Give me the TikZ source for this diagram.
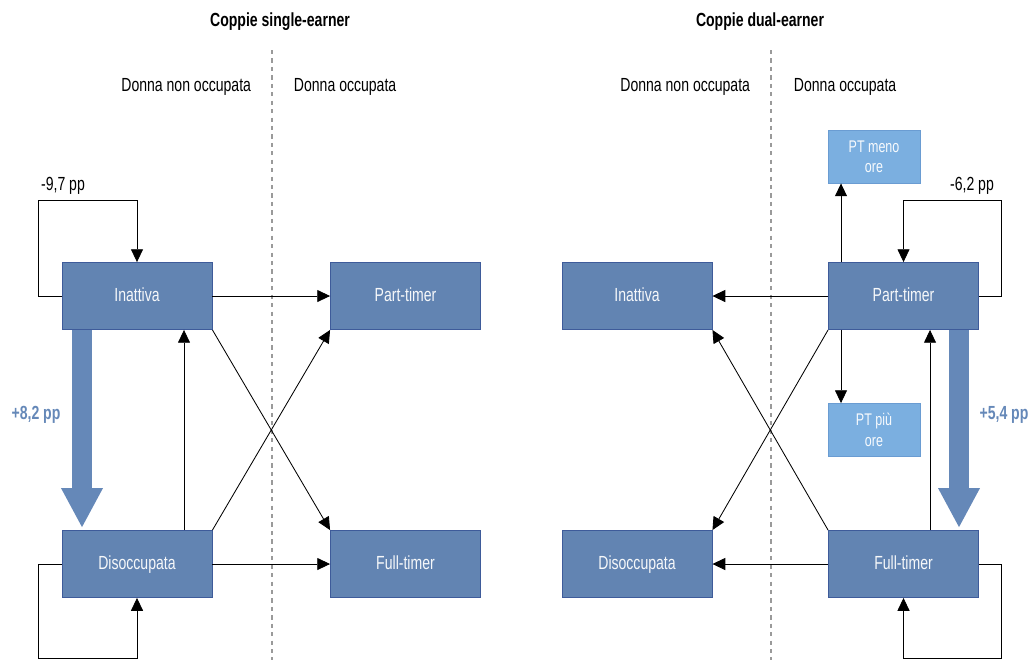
\documentclass[tikz,border=0pt]{standalone}
\usepackage{fontspec}
\setmainfont{Liberation Sans}[FakeStretch=0.74]
\usepackage{xcolor}
\usetikzlibrary{positioning,arrows.meta,calc}
\definecolor{cBox}{HTML}{6284B2}
\definecolor{cBoxLine}{HTML}{3E5B9A}
\definecolor{cLight}{HTML}{7BAFE0}
\definecolor{cLightLine}{HTML}{6A9CD2}
\definecolor{cFlow}{HTML}{6588B8}
\definecolor{cDiv}{HTML}{9A9A9A}

\begin{document}
\begin{tikzpicture}[
  x=0.025cm, y=-0.025cm,
  font=\fontsize{13.5}{15}\selectfont,
  >={Triangle[length=0.32cm, width=0.3cm]},
  state/.style={draw=cBoxLine, line width=0.6pt, fill=cBox, text=white!94!cBox,
                minimum width=3.75cm, minimum height=1.675cm, inner sep=0pt,
                text height=1.5ex, text depth=0.1ex},
  sub/.style={draw=cLightLine, line width=0.6pt, fill=cLight, text=white!94!cLight,
              minimum width=2.3cm, minimum height=1.325cm, inner sep=0pt,
              align=center, font=\fontsize{12}{14.5}\selectfont},
  link/.style={->, line width=0.6pt},
  bigflow/.style={draw=cFlow, line width=0.5cm,
                  -{Triangle[length=0.975cm, width=1.05cm, line width=0pt]}},
  flowlab/.style={text=cFlow, font=\fontsize{13.5}{15}\selectfont\bfseries},
  divider/.style={draw=cDiv, dashed, line width=0.8pt},
  title/.style={font=\fontsize{13.5}{15}\selectfont\bfseries},
]
  \useasboundingbox (0,0) rectangle (1030,660);
  % headings
  \node[title] (tL) at (280,22) {Coppie single-earner};
  \node[title] (tR) at (760,22) {Coppie dual-earner};
  \node[anchor=east] (noL) at (256,87) {Donna non occupata};
  \node[anchor=west] (okL) at (289,87) {Donna occupata};
  \node[anchor=east] (noR) at (755,87) {Donna non occupata};
  \node[anchor=west] (okR) at (789,87) {Donna occupata};
  \draw[divider] (272,50) -- (272,660);
  \draw[divider] (771,50) -- (771,660);
  % left panel: single-earner
  \node[state] (inL) at (137,296)   {Inattiva};
  \node[state] (ptL) at (405.5,296) {Part-timer};
  \node[state] (dsL) at (137,564)   {Disoccupata};
  \node[state] (ftL) at (405.5,564) {Full-timer};
  \draw[link] (inL.west) -- ++(-23,0) -- ++(0,-96) -| (inL.north);
  \node (lbL) at (63,186) {-9,7 pp};
  \draw[link] (dsL.west) -- ++(-23,0) -- ++(0,94) -| (dsL.south);
  \draw[bigflow] ($(inL.south)+(-55,0)$) -- ($(dsL.north)+(-55,-3)$);
  \node[flowlab] (fL) at (36,415) {+8,2 pp};
  \draw[link] (inL.east) -- (ptL.west);
  \draw[link] (dsL.east) -- (ftL.west);
  \draw[link] ($(dsL.north)+(47,0)$) -- ($(inL.south)+(47,0)$);
  \draw[link] (inL.south east) -- (ftL.north west);
  \draw[link] (dsL.north east) -- (ptL.south west);
  % right panel: dual-earner
  \node[state] (inR) at (637,296)   {Inattiva};
  \node[state] (ptR) at (903.5,296) {Part-timer};
  \node[state] (dsR) at (637,564)   {Disoccupata};
  \node[state] (ftR) at (903.5,564) {Full-timer};
  \node[sub] (pmR) at (874,156.5) {PT meno\\ore};
  \node[sub] (ppR) at (874,430)   {PT più\\ore};
  \draw[link] (ptR.east) -- ++(22,0) -- ++(0,-96) -| (ptR.north);
  \node (lbR) at (972,186) {-6,2 pp};
  \draw[link] (ftR.east) -- ++(22,0) -- ++(0,94) -| (ftR.south);
  \draw[bigflow] ($(ptR.south)+(55.5,0)$) -- ($(ftR.north)+(55.5,-3)$);
  \node[flowlab] (fR) at (1004,415) {+5,4 pp};
  \draw[link] (ptR.west) -- (inR.east);
  \draw[link] (ftR.west) -- (dsR.east);
  \draw[link] (ptR.south west) -- (dsR.north east);
  \draw[link] (ftR.north west) -- (inR.south east);
  \draw[link] ($(ptR.north)+(-62.5,0)$) -- (pmR.south -| {$(ptR.north)+(-62.5,0)$});
  \draw[link] ($(ptR.south)+(-62.5,0)$) -- (ppR.north -| {$(ptR.south)+(-62.5,0)$});
  \draw[link] ($(ftR.north)+(26.5,0)$) -- ($(ptR.south)+(26.5,0)$);
\end{tikzpicture}
\end{document}
